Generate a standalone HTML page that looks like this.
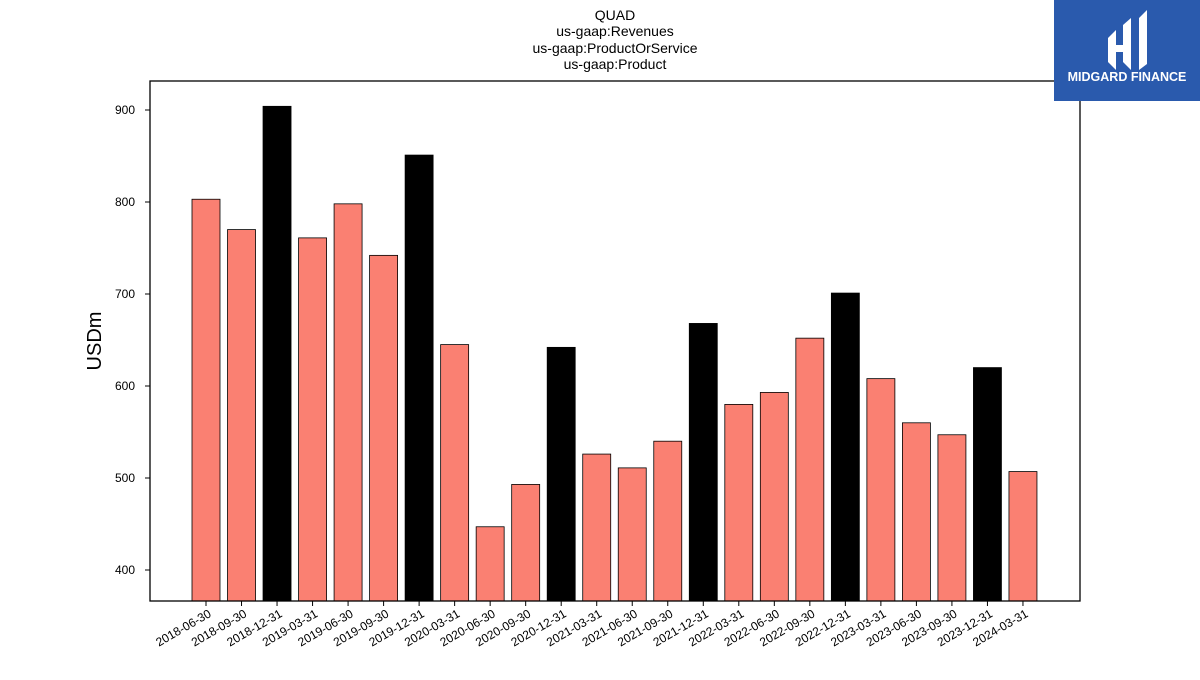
<!DOCTYPE html>
<html><head><meta charset="utf-8"><style>
body{margin:0;background:#fff;width:1200px;height:675px;overflow:hidden;font-family:"Liberation Sans","DejaVu Sans",sans-serif}
</style></head><body>
<svg width="1200" height="675" xmlns="http://www.w3.org/2000/svg">
<g font-size="14" text-anchor="middle" fill="#000">
<text x="615" y="20">QUAD</text><text x="615" y="36">us-gaap:Revenues</text>
<text x="615" y="53">us-gaap:ProductOrService</text><text x="615" y="69">us-gaap:Product</text></g>
<g id="bars"></g>
<g id="axes"></g>
<rect x="150" y="81" width="930" height="520" fill="none" stroke="#000" stroke-width="1.3"/>
<text transform="translate(101,341) rotate(-90)" font-size="20" text-anchor="middle">USDm</text>
<g>
<rect x="1054" y="0" width="146" height="101" fill="#2a5aad"/>
<path d="M1108 38 L1116 30 L1116 70 L1108 62 Z M1123 25 L1131 18 L1131 70 L1123 62 Z M1139 18 L1147 10 L1147 64 L1139 70 Z M1116 45 L1123 45 L1123 52 L1116 52Z" fill="#fff"/>
<text x="1127" y="81" font-size="12.5" font-weight="bold" fill="#fff" text-anchor="middle">MIDGARD FINANCE</text>
</g>
</svg>
<script>
const categories=["2018-06-30","2018-09-30","2018-12-31","2019-03-31","2019-06-30","2019-09-30","2019-12-31","2020-03-31","2020-06-30","2020-09-30","2020-12-31","2021-03-31","2021-06-30","2021-09-30","2021-12-31","2022-03-31","2022-06-30","2022-09-30","2022-12-31","2023-03-31","2023-06-30","2023-09-30","2023-12-31","2024-03-31"];
const values=[803,770,904,761,798,742,851,645,447,493,642,526,511,540,668,580,593,652,701,608,560,547,620,507];
const yTicks=[400,500,600,700,800,900];
const NS="http://www.w3.org/2000/svg";
function y(v){return 570-(v-400)*0.92;}
function x(i){return 206+i*35.52;}
const bars=document.getElementById('bars'),axes=document.getElementById('axes');
categories.forEach((c,i)=>{
 const r=document.createElementNS(NS,'rect');
 
 
 r.setAttribute('x',x(i)-14);r.setAttribute('width',28);
 r.setAttribute('y',y(values[i]));r.setAttribute('height',601-y(values[i]));
 r.setAttribute('fill',c.endsWith('12-31')?'#000':'#fa8072');
 r.setAttribute('stroke','#000');r.setAttribute('stroke-width','0.8');
 bars.appendChild(r);
 const t=document.createElementNS(NS,'line');
 
 
 t.setAttribute('x1',x(i));t.setAttribute('x2',x(i));t.setAttribute('y1',601);t.setAttribute('y2',606);t.setAttribute('stroke','#000');
 axes.appendChild(t);
 const l=document.createElementNS(NS,'text');
 
 
 l.setAttribute('font-size','12');l.setAttribute('text-anchor','end');
 l.setAttribute('transform','translate('+(x(i)+6)+',616) rotate(-30)');
 l.textContent=c;axes.appendChild(l);
});
yTicks.forEach(v=>{
 const t=document.createElementNS(NS,'line');
 
 
 t.setAttribute('x1',145);t.setAttribute('x2',150);t.setAttribute('y1',y(v));t.setAttribute('y2',y(v));t.setAttribute('stroke','#000');
 axes.appendChild(t);
 const l=document.createElementNS(NS,'text');
 
 
 l.setAttribute('font-size','12');l.setAttribute('text-anchor','end');
 l.setAttribute('x',135);l.setAttribute('y',y(v)+4);l.textContent=v;axes.appendChild(l);
});
</script>
</body></html>
